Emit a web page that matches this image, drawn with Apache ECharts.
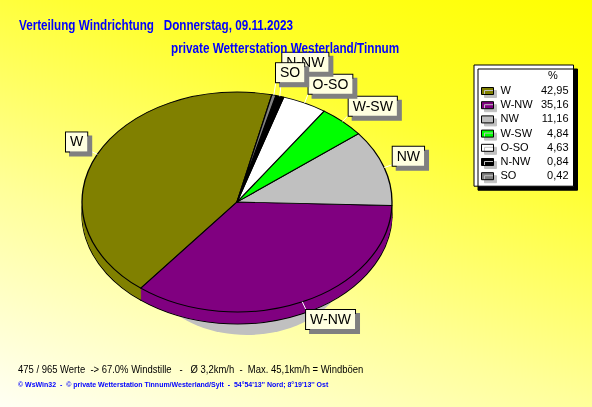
<!DOCTYPE html>
<html><head><meta charset="utf-8">
<script src="https://cdn.jsdelivr.net/npm/echarts@6/dist/echarts.min.js"></script>
<style>
html,body{margin:0;padding:0;}
body{width:592px;height:407px;overflow:hidden;position:relative;
background:linear-gradient(200deg,#ffff00 0%,#ffff30 30%,#ffff9a 65%,#fffff4 100%);}
#pie{position:absolute;left:0;top:0;width:592px;height:574px;transform:scaleY(0.709677);transform-origin:0 0;}
#overlay{position:absolute;left:0;top:0;width:592px;height:407px;}
</style></head><body>
<div id="pie"></div><div id="overlay"></div>
<script>
// ---- data ----
const categories = ['W', 'W-NW', 'NW', 'W-SW', 'O-SO', 'N-NW', 'SO'];
const shares = [42.95, 35.16, 11.16, 4.84, 4.63, 0.84, 0.42];
const sliceColors = ['#808000', '#800080', '#c0c0c0', '#00ff00', '#ffffff', '#000000', '#808080'];
const titleLine1 = 'Verteilung Windrichtung   Donnerstag, 09.11.2023';
const titleLine2 = 'private Wetterstation Westerland/Tinnum';
const footLine1 = '475 / 965 Werte  -> 67.0% Windstille   -   \u00d8 3,2km/h  -  Max. 45,1km/h = Windb\u00f6en';
const footLine2 = '\u00a9 WsWin32  -  \u00a9 private Wetterstation Tinnum/Westerland/Sylt  -  54\u00b054\'13\'\' Nord; 8\u00b019\'13\'\' Ost';
const legendHeader = '%';

// ---- geometry / style ----
const CX = 237, CY = 202, RX = 155, RY = 110, K = RY / RX, DEPTH = 12, START = 77;
const FS = "'Liberation Sans',Arial,sans-serif";

const pieData = categories.map((c, i) => ({ name: c, value: shares[i] }));

// ---- pie body (drawn round, squashed vertically by CSS into an ellipse) ----
const pieChart = echarts.init(document.getElementById('pie'), null, { renderer: 'svg', width: 592, height: 574 });
const bodySeries = [];
bodySeries.push({
  type: 'pie', silent: true, animation: false, z: 1,
  center: [CX + 10, 264 / K], radius: [0, 100],
  data: [{ name: 'Schatten', value: 1 }], color: ['#c0c0c0'],
  label: { show: false }, labelLine: { show: false }, itemStyle: { borderWidth: 0 },
  emphasis: { disabled: true }
});
const steps = 18;
for (let s = steps; s >= 0; s--) {
  const d = (DEPTH / K) * s / steps;
  const edge = (s === steps || s === 0);
  bodySeries.push({
    type: 'pie', silent: true, animation: false, z: 2 + (steps - s),
    center: [CX, CY / K + d], radius: [0, RX],
    startAngle: START, clockwise: false,
    data: pieData, color: sliceColors,
    label: { show: false }, labelLine: { show: false },
    itemStyle: { borderColor: '#000', borderWidth: edge ? 1.3 : 0 },
    emphasis: { disabled: true }
  });
}
pieChart.setOption({ backgroundColor: 'transparent', animation: false, series: bodySeries });

// ---- overlay: texts, legend, slice labels ----
const overlayChart = echarts.init(document.getElementById('overlay'), null, { renderer: 'canvas', width: 592, height: 407 });
const placed = [];
function layoutLabel(p) {
  const pts = p.labelLinePoints;
  if (!pts || pts.length < 2) return {};
  const i = p.dataIndex;
  const dx = pts[1][0] - pts[0][0], dy = pts[1][1] - pts[0][1];
  const L = Math.sqrt(dx * dx + dy * dy) || 1;
  const ux = dx / L, uy = dy / L;
  const E = [pts[0][0], CY + (pts[0][1] - CY) * K];
  const P = [E[0] + ux * 9, E[1] + uy * 9];
  const w = p.labelRect.width, h = p.labelRect.height;
  const x = ux >= 0 ? P[0] : P[0] - w;
  let y = uy <= 0 ? P[1] - h + 3 : P[1];
  for (let j = 0; j < i; j++) {
    const r = placed[j];
    if (!r) continue;
    if (x < r.x + r.w && x + w > r.x && y < r.y + r.h && y + h > r.y) {
      const need = (y + h) - r.y;
      if (uy < 0) y = need < h * 0.8 ? r.y - h - 1 : y - h * 0.25;
    }
  }
  placed[i] = { x: x, y: y, w: w, h: h };
  const Q = [ux >= 0 ? x : x + w, uy <= 0 ? y + h - 3 : y];
  return { x: x, y: y, align: 'left', verticalAlign: 'top', labelLinePoints: [E, Q, Q] };
}
const fmt = v => v.toFixed(2).replace('.', ',');
function txt(s, x, y, font, fill, sx) {
  return { type: 'text', x: x, y: y, scaleX: sx, z: 100, style: { text: s, font: font, fill: fill, align: 'left', verticalAlign: 'top' } };
}
overlayChart.setOption({
  animation: false,
  graphic: [
    txt(titleLine1, 19, 19, 'bold 14px ' + FS, '#0000ff', 0.835),
    txt(titleLine2, 171, 42, 'bold 14px ' + FS, '#0000ff', 0.838),
    txt(footLine1, 18, 364, '11px ' + FS, '#000000', 0.86),
    txt(footLine2, 18, 381, 'bold 8px ' + FS, '#0000ff', 0.873),
    txt(legendHeader, 548, 70, '11px ' + FS, '#000000', 1)
  ],
  legend: {
    orient: 'vertical', left: 474, top: 65, padding: [19, 5, 3, 7],
    itemWidth: 12, itemHeight: 7, itemGap: 0.2, icon: 'rect', selectedMode: false,
    backgroundColor: '#ffffff', borderColor: '#000', borderWidth: 1,
    shadowColor: '#000', shadowOffsetX: 4, shadowOffsetY: 4, shadowBlur: 0,
    itemStyle: { borderColor: '#000', borderWidth: 1, shadowColor: '#c0c0c0', shadowOffsetX: 3, shadowOffsetY: 3, shadowBlur: 0 },
    textStyle: {
      color: '#000', fontSize: 11, fontFamily: FS, lineHeight: 14,
      rich: {
        n: { width: 39, fontSize: 11, lineHeight: 14, fontFamily: FS, color: '#000', padding: [0, 0, 0, 2] },
        v: { width: 29, align: 'right', fontSize: 11, lineHeight: 14, fontFamily: FS, color: '#000' }
      }
    },
    formatter: name => '{n|' + name + '}{v|' + fmt(shares[categories.indexOf(name)]) + '}',
    data: categories.map((c, i) => ({ name: c, itemStyle: { color: sliceColors[i] } }))
  },
  series: [{
    type: 'pie', center: [CX, CY], radius: [0, RX], startAngle: START, clockwise: false,
    data: pieData, silent: true, avoidLabelOverlap: false, minShowLabelAngle: 0,
    itemStyle: { color: 'rgba(0,0,0,0)', borderWidth: 0 },
    emphasis: { disabled: true },
    label: {
      show: true, position: 'outside', formatter: '{b}', color: '#000', fontSize: 14, fontFamily: FS,
      lineHeight: 14, padding: [3, 4, 2, 4], backgroundColor: '#ffffe0', borderColor: '#000', borderWidth: 1,
      shadowColor: '#808080', shadowOffsetX: 4, shadowOffsetY: 4, shadowBlur: 0
    },
    labelLine: { show: true, length: 10, length2: 0, smooth: false, lineStyle: { color: '#ffffff', width: 1 } },
    labelLayout: layoutLabel
  }]
});
</script>
</body></html>
